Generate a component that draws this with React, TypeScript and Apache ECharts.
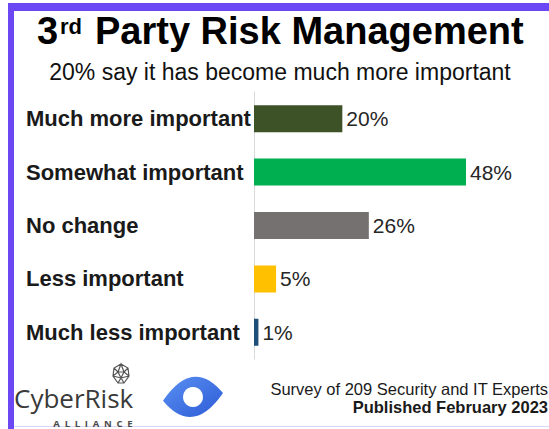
import React, { useEffect, useRef } from "react";
import * as echarts from "echarts";

const categories = [
  "Much more important",
  "Somewhat important",
  "No change",
  "Less important",
  "Much less important",
];
const values = [20, 48, 26, 5, 1];
const barColors = ["#3D5226", "#00B050", "#767171", "#FFC000", "#1F4E79"];
const titleMain = "Party Risk Management";
const subtitle = "20% say it has become much more important";
const footer1 = "Survey of 209 Security and IT Experts";
const footer2 = "Published February 2023";
const allianceText = ["A", "L", "L", "I", "A", "N", "C", "E"].join("\u2002");

let registered = false;
function registerShapes() {
  if (registered) return;
  registered = true;
  const d = "M0 27 Q30 -19 60 19 Q30 65 0 27 Z";
  echarts.graphic.registerShape("eyeLogo", echarts.graphic.extendPath(d as any, {}) as any);
  const g =
    "M8 0 L15 4 L16 12 L11 19 L5 19 L0 12 L1 4 Z M8 0 L5 8 L11 8 Z M1 4 L5 8 L0 12 M15 4 L11 8 L16 12 M5 8 L8 14 L11 8 M0 12 L8 14 L16 12 M5 19 L8 14 L11 19";
  echarts.graphic.registerShape("geoIcon", echarts.graphic.extendPath(g as any, {}) as any);
}

export default function App() {
  const ref = useRef<HTMLDivElement>(null);
  useEffect(() => {
    if (!ref.current) return;
    registerShapes();
    const chart = echarts.init(ref.current, undefined, { renderer: "svg" });
    chart.setOption({
      animation: false,
      backgroundColor: "#ffffff",
      grid: { left: 254, top: 92, width: 265, height: 267, containLabel: false },
      xAxis: {
        type: "value",
        min: 0,
        max: 60,
        show: false,
      },
      yAxis: {
        type: "category",
        data: categories,
        inverse: true,
        axisLine: { show: true, lineStyle: { color: "#D9D9D9", width: 1 } },
        axisTick: { show: false },
        axisLabel: {
          align: "left",
          margin: 228,
          fontFamily: "'Liberation Sans', Arial, sans-serif",
          fontWeight: "bold",
          fontSize: 22,
          color: "#1a1a1a",
        },
        splitLine: { show: false },
      },
      series: [
        {
          type: "bar",
          data: values.map((v, i) => ({ value: v, itemStyle: { color: barColors[i] } })),
          barWidth: 27,
          label: {
            show: true,
            position: "right",
            distance: 4,
            formatter: "{c}%",
            fontFamily: "'Liberation Sans', Arial, sans-serif",
            fontSize: 21,
            color: "#262626",
          },
        },
      ],
      graphic: [
        // purple border
        { type: "rect", shape: { x: 8, y: 3, width: 541, height: 8 }, style: { fill: "#6B48F4" } },
        { type: "rect", shape: { x: 8, y: 3, width: 6, height: 426 }, style: { fill: "#6B48F4" } },
        { type: "rect", shape: { x: 14, y: 426, width: 535, height: 1 }, style: { fill: "#DCD5FA" } },
        // title
        {
          type: "text",
          x: 37,
          y: 31,
          style: {
            text: "3",
            font: "bold 38px 'Liberation Sans', Arial, sans-serif",
            fill: "#000",
            textVerticalAlign: "middle",
          },
        },
        {
          type: "text",
          x: 60,
          y: 26,
          style: {
            text: "rd",
            font: "bold 22px 'Liberation Sans', Arial, sans-serif",
            fill: "#000",
            textVerticalAlign: "middle",
          },
        },
        {
          type: "text",
          x: 95,
          y: 31,
          style: {
            text: titleMain,
            font: "bold 38px 'Liberation Sans', Arial, sans-serif",
            fill: "#000",
            textVerticalAlign: "middle",
          },
        },
        {
          type: "text",
          x: 280,
          y: 72,
          style: {
            text: subtitle,
            font: "23px 'Liberation Sans', Arial, sans-serif",
            fill: "#111",
            textAlign: "center",
            textVerticalAlign: "middle",
          },
        },
        // footer
        {
          type: "text",
          x: 548,
          y: 389,
          style: {
            text: footer1,
            font: "16.5px 'Liberation Sans', Arial, sans-serif",
            fill: "#1a1a1a",
            textAlign: "right",
            textVerticalAlign: "middle",
          },
        },
        {
          type: "text",
          x: 548,
          y: 407,
          style: {
            text: footer2,
            font: "bold 16.5px 'Liberation Sans', Arial, sans-serif",
            fill: "#1a1a1a",
            textAlign: "right",
            textVerticalAlign: "middle",
          },
        },
        // CyberRisk logo
        {
          type: "text",
          x: 14,
          y: 398,
          style: {
            text: "CyberRisk",
            font: "26px 'Open Sans', sans-serif",
            fill: "#3a3a3a",
            textVerticalAlign: "middle",
          },
        },
        {
          type: "text",
          x: 93,
          y: 423.5,
          style: {
            text: allianceText,
            font: "bold 9.5px 'Open Sans', sans-serif",
            fill: "#4a4a4a",
            textAlign: "center",
            textVerticalAlign: "middle",
          },
        },
        {
          type: "geoIcon",
          x: 113,
          y: 364,
          style: { fill: "none", stroke: "#555", lineWidth: 1.2 },
        },
        // blue logo
        {
          type: "eyeLogo",
          x: 163,
          y: 375,
          scaleX: 1.0,
          scaleY: 0.95,
          style: {
            fill: new echarts.graphic.LinearGradient(0, 0, 1, 1, [
              { offset: 0, color: "#5A90F2" },
              { offset: 1, color: "#2D5BD6" },
            ]),
          },
        },
        {
          type: "circle",
          shape: { cx: 193, cy: 397, r: 10 },
          style: { fill: "#ffffff" },
        },
      ],
    });
    return () => chart.dispose();
  }, []);
  return (
    <div
      ref={ref}
      style={{ position: "absolute", left: 0, top: 0, width: 549, height: 429 }}
    />
  );
}
